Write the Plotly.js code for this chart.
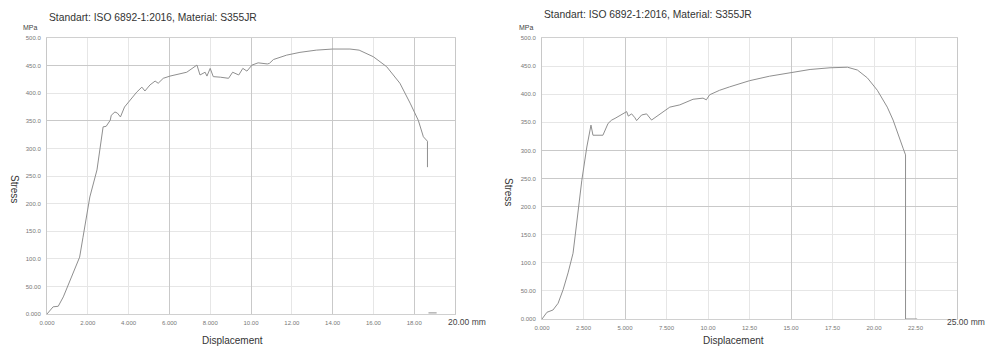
<!DOCTYPE html>
<html>
<head>
<meta charset="utf-8">
<script src="https://cdn.plot.ly/plotly-3.0.1.min.js"></script>
<style>html,body{margin:0;padding:0;background:#fff;}#chart{width:987px;height:346px;}</style>
</head>
<body>
<div id="chart"></div>
<script>
// ---- Data ----
const chartTitle = "Standart: ISO 6892-1:2016, Material: S355JR";

// Left test: displacement (mm) and stress (MPa)
const leftDisp = [0, 0.3, 0.55, 0.8, 1.2, 1.6, 1.76, 2.1, 2.45, 2.75, 2.9, 3.1, 3.15, 3.33, 3.45, 3.6, 3.8, 4.07, 4.4, 4.65, 4.8, 5.05, 5.3, 5.45, 5.7, 6.03, 6.5, 6.85, 7.35, 7.5, 7.75, 7.84, 8.0, 8.15, 8.5, 8.9, 9.1, 9.4, 9.6, 9.8, 10.05, 10.35, 10.8, 10.9, 11.1, 11.75, 12.4, 13.2, 14.0, 14.85, 15.3, 16.0, 16.65, 17.3, 17.8, 18.2, 18.45, 18.65, 18.65, null, 18.7, 19.1];
const leftStress = [0, 13, 14, 31, 67, 103, 138, 212, 261, 339, 340, 351, 360, 366, 364, 357, 375, 388, 402, 411, 404, 415, 422, 418, 427, 431, 435, 438, 451, 433, 438, 431, 445, 430, 429, 427, 438, 433, 445, 440, 451, 455, 453, 454, 461, 469, 474, 478, 480, 480, 478, 466, 448, 418, 382, 351, 321, 313, 266, null, 2, 2];

// Right test
const rightDisp = [0, 0.3, 0.48, 0.66, 0.97, 1.27, 1.57, 1.87, 1.99, 2.4, 2.7, 2.95, 3.07, 3.67, 3.98, 4.2, 4.4, 4.8, 5.1, 5.2, 5.4, 5.6, 5.7, 6.0, 6.3, 6.6, 6.9, 7.3, 7.7, 8.3, 8.7, 9.1, 9.7, 9.9, 10.1, 10.7, 11.3, 12.5, 13.7, 14.95, 16.15, 17.35, 18.4, 19.0, 19.6, 20.2, 20.8, 21.15, 21.45, 21.75, 21.9, 21.9, 22.6];
const rightStress = [0, 12, 14, 16, 28, 52, 82, 117, 146, 247, 306, 345, 327, 327, 348, 354, 357, 363, 369, 361, 365, 358, 353, 363, 365, 354, 360, 369, 377, 381, 386, 391, 393, 390, 399, 407, 413, 424, 432, 438, 444, 447, 448, 443, 429, 407, 377, 354, 327, 304, 292, 0, 0];

// Tick labels
const yTickVals = [0, 50, 100, 150, 200, 250, 300, 350, 400, 450, 500];
const yTickText = ["0.000", "50.00", "100.0", "150.0", "200.0", "250.0", "300.0", "350.0", "400.0", "450.0", "500.0"];
const leftXTickVals = [0, 2, 4, 6, 8, 10, 12, 14, 16, 18, 20];
const leftXTickText = ["0.000", "2.000", "4.000", "6.000", "8.000", "10.00", "12.00", "14.00", "16.00", "18.00", ""];
const rightXTickVals = [0, 2.5, 5, 7.5, 10, 12.5, 15, 17.5, 20, 22.5, 25];
const rightXTickText = ["0.000", "2.500", "5.000", "7.500", "10.00", "12.50", "15.00", "17.50", "20.00", "22.50", ""];
const leftXEndLabel = "20.00 mm";
const rightXEndLabel = "25.00 mm";
const unitLabel = "MPa";
const xLabel = "Displacement";
const yLabel = "Stress";

// Stronger grid lines
const leftXStrong = [6, 10, 14, 18];
const leftYStrong = [350, 450];
const rightXStrong = [5, 15];
const rightYStrong = [200, 250, 300];

// ---- Styling ----
const W = 987, H = 346;
const FONT = "Liberation Sans, Arial, sans-serif";
const lightGrid = "#e6e6e6";
const darkGrid = "#c9c9c9";
const tickFont = {family: FONT, size: 6, color: "#777"};
const lineColor = "#8f8f8f";

const Ldom = [47 / W, 455 / W];
const Rdom = [542 / W, 957 / W];
const LYdom = [(H - 314) / H, (H - 38) / H];
const RYdom = [(H - 319) / H, (H - 38) / H];

function baseX(dom, range, vals, text, anchor) {
  return {domain: dom, range: range, anchor: anchor, tickmode: "array", tickvals: vals, ticktext: text,
    showgrid: true, gridcolor: lightGrid, gridwidth: 1, zeroline: false, showline: true, linecolor: "#d0d0d0",
    mirror: true, ticks: "", tickfont: tickFont, ticklabelstandoff: 3, fixedrange: true};
}
function baseY(dom, anchor) {
  return {domain: dom, range: [0, 500], anchor: anchor, tickmode: "array", tickvals: yTickVals, ticktext: yTickText,
    showgrid: true, gridcolor: lightGrid, gridwidth: 1, zeroline: false, showline: true, linecolor: "#c8c8c8",
    mirror: true, ticks: "", tickfont: tickFont, ticklabelstandoff: 4, fixedrange: true};
}
function overX(over, range, vals, anchor) {
  return {overlaying: over, anchor: anchor, range: range, tickmode: "array", tickvals: vals, showticklabels: false,
    showgrid: true, gridcolor: darkGrid, zeroline: false, showline: false, ticks: "", fixedrange: true};
}
function overY(over, vals, anchor) {
  return {overlaying: over, anchor: anchor, range: [0, 500], tickmode: "array", tickvals: vals, showticklabels: false,
    showgrid: true, gridcolor: darkGrid, zeroline: false, showline: false, ticks: "", fixedrange: true};
}

const traces = [
  {x: [], y: [], xaxis: "x3", yaxis: "y3", type: "scatter", mode: "lines", hoverinfo: "skip", showlegend: false},
  {x: [], y: [], xaxis: "x4", yaxis: "y4", type: "scatter", mode: "lines", hoverinfo: "skip", showlegend: false},
  {x: leftDisp, y: leftStress, xaxis: "x", yaxis: "y", type: "scatter", mode: "lines",
    line: {color: lineColor, width: 1}, connectgaps: false, showlegend: false},
  {x: rightDisp, y: rightStress, xaxis: "x2", yaxis: "y2", type: "scatter", mode: "lines",
    line: {color: lineColor, width: 1}, connectgaps: false, showlegend: false}
];

const ann = (text, x, y, opts) => Object.assign({text: text, x: x, y: y, xref: "paper", yref: "paper",
  showarrow: false, font: {family: FONT, size: 10, color: "#333"}}, opts || {});

const endFont = {family: FONT, size: 8.5, color: "#444"};

const layout = {
  width: W, height: H,
  margin: {l: 0, r: 0, t: 0, b: 0},
  paper_bgcolor: "#fff", plot_bgcolor: "#fff",
  showlegend: false,
  xaxis: baseX(Ldom, [0, 20], leftXTickVals, leftXTickText, "y"),
  yaxis: baseY(LYdom, "x"),
  xaxis2: baseX(Rdom, [0, 25], rightXTickVals, rightXTickText, "y2"),
  yaxis2: baseY(RYdom, "x2"),
  xaxis3: overX("x", [0, 20], leftXStrong, "y3"),
  yaxis3: overY("y", leftYStrong, "x3"),
  xaxis4: overX("x2", [0, 25], rightXStrong, "y4"),
  yaxis4: overY("y2", rightYStrong, "x4"),
  annotations: [
    ann(chartTitle, 47 / W, 1 - 17 / H, {xanchor: "left", yanchor: "middle", font: {family: FONT, size: 10.3, color: "#333"}}),
    ann(chartTitle, 542 / W, 1 - 15 / H, {xanchor: "left", yanchor: "middle", font: {family: FONT, size: 10.3, color: "#333"}}),
    ann(unitLabel, 30 / W, 1 - 27 / H, {xanchor: "center", yanchor: "middle", font: {family: FONT, size: 7, color: "#444"}}),
    ann(unitLabel, 526 / W, 1 - 27 / H, {xanchor: "center", yanchor: "middle", font: {family: FONT, size: 7, color: "#444"}}),
    ann(yLabel, 15 / W, 1 - 189 / H, {xanchor: "center", yanchor: "middle", textangle: 90}),
    ann(yLabel, 508 / W, 1 - 192 / H, {xanchor: "center", yanchor: "middle", textangle: 90}),
    ann(xLabel, 232 / W, 1 - 340 / H, {xanchor: "center", yanchor: "middle"}),
    ann(xLabel, 733 / W, 1 - 340 / H, {xanchor: "center", yanchor: "middle"}),
    ann(leftXEndLabel, 446 / W, 1 - 322 / H, {xanchor: "left", yanchor: "middle", font: endFont}),
    ann(rightXEndLabel, 945 / W, 1 - 322 / H, {xanchor: "left", yanchor: "middle", font: endFont})
  ]
};

Plotly.newPlot("chart", traces, layout, {staticPlot: true, displayModeBar: false});
</script>
</body>
</html>
